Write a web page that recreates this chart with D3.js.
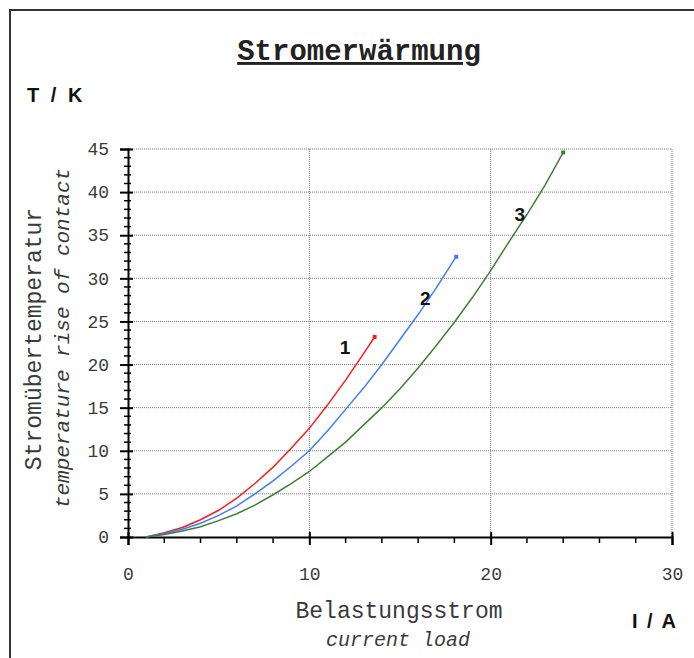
<!DOCTYPE html>
<html>
<head>
<meta charset="utf-8">
<script src="https://cdn.jsdelivr.net/npm/d3@7"></script>
<style>
  body { margin: 0; background: #fff; }
  .mono { font-family: 'Liberation Mono', 'Courier New', monospace; }
  .sans { font-family: 'Liberation Sans', Arial, sans-serif; font-weight: bold; }
</style>
</head>
<body>
<div id="chart"></div>
<script>
// current I / A for each curve
const current1 = [1, 2, 3, 4, 5, 6, 7, 8, 9, 10, 11, 12, 13, 13.6]
const temp1 = [0, 0.5, 1.1, 2.0, 3.1, 4.5, 6.2, 8.1, 10.3, 12.6, 15.3, 18.2, 21.3, 23.2]

const current2 = [1, 2, 3, 4, 5, 6, 7, 8, 9, 10, 11, 12, 13, 14, 15, 16, 17, 18, 18.1]
const temp2 = [0, 0.4, 0.9, 1.6, 2.5, 3.6, 5.0, 6.5, 8.2, 10.0, 12.3, 14.8, 17.3, 20.0, 22.9, 25.8, 28.9, 32.2, 32.5]

const current3 = [1, 2, 3, 4, 5, 6, 7, 8, 9, 10, 11, 12, 13, 14, 15, 16, 17, 18, 19, 20, 21, 22, 23, 24]
const temp3 = [0, 0.3, 0.7, 1.2, 1.9, 2.7, 3.7, 4.9, 6.2, 7.6, 9.3, 11.0, 13.0, 15.0, 17.2, 19.6, 22.2, 24.9, 27.8, 30.9, 34.2, 37.4, 40.8, 44.6]

const seriesNames = ['1', '2', '3']
const seriesColors = ['#ff1a1a', '#3d7eff', '#3f7f35']
const labelPos = [[11.97, 22.0], [16.4, 27.7], [21.6, 37.4]]

const xTicks = [0, 10, 20, 30]
const yTicks = [0, 5, 10, 15, 20, 25, 30, 35, 40, 45]

const width = 694
const height = 658
const plot = { left: 128, right: 672, top: 149, bottom: 537 }
const textColor = '#3a3a3a'

const svg = d3.select('#chart').append('svg')
  .attr('width', width)
  .attr('height', height)

// outer frame
svg.append('rect')
  .attr('x', 10).attr('y', 10)
  .attr('width', 720).attr('height', 700)
  .attr('fill', 'none')
  .attr('stroke', '#333')
  .attr('stroke-width', 2)

const x = d3.scaleLinear().domain([0, 30]).range([plot.left, plot.right])
const y = d3.scaleLinear().domain([0, 45]).range([plot.bottom, plot.top])

// grid
svg.append('g')
  .selectAll('line')
  .data(yTicks.slice(1))
  .join('line')
  .attr('x1', plot.left).attr('x2', plot.right)
  .attr('y1', d => y(d)).attr('y2', d => y(d))
  .attr('stroke', '#777')
  .attr('stroke-dasharray', '1,1')

svg.append('g')
  .selectAll('line')
  .data(xTicks.slice(1))
  .join('line')
  .attr('x1', d => x(d)).attr('x2', d => x(d))
  .attr('y1', plot.top).attr('y2', plot.bottom)
  .attr('stroke', '#777')
  .attr('stroke-dasharray', '1,1')

// minor ticks
svg.append('g')
  .selectAll('line')
  .data(d3.range(0, 46, 1).filter(d => d % 5 !== 0))
  .join('line')
  .attr('x1', plot.left - 4).attr('x2', plot.left + 3)
  .attr('y1', d => y(d)).attr('y2', d => y(d))
  .attr('stroke', '#000')
  .attr('stroke-width', 1.5)

svg.append('g')
  .selectAll('line')
  .data(d3.range(0, 31, 2).filter(d => d % 10 !== 0))
  .join('line')
  .attr('x1', d => x(d)).attr('x2', d => x(d))
  .attr('y1', plot.bottom).attr('y2', plot.bottom + 6)
  .attr('stroke', '#000')
  .attr('stroke-width', 1.5)

// axes
const yAxis = svg.append('g')
  .attr('transform', `translate(${plot.left},0)`)
  .call(d3.axisLeft(y).tickValues(yTicks).tickSize(8).tickPadding(11))
yAxis.selectAll('.tick line').attr('x2', -8).attr('x1', 5).attr('stroke-width', 2)

const xAxis = svg.append('g')
  .attr('transform', `translate(0,${plot.bottom})`)
  .call(d3.axisBottom(x).tickValues(xTicks).tickSize(8).tickPadding(28))
xAxis.selectAll('.tick line').attr('y1', -5).attr('stroke-width', 2)

svg.selectAll('.domain').attr('stroke-width', 2)
svg.selectAll('.tick text')
  .attr('class', 'mono')
  .style('font-size', '18px')
  .attr('fill', textColor)
xAxis.selectAll('.tick text').attr('dy', '0.4em')

// curves
const series = [
  current1.map((c, i) => [c, temp1[i]]),
  current2.map((c, i) => [c, temp2[i]]),
  current3.map((c, i) => [c, temp3[i]])
]

const line = d3.line()
  .x(d => x(d[0]))
  .y(d => y(d[1]))

series.forEach((pts, i) => {
  svg.append('path')
    .datum(pts)
    .attr('d', line)
    .attr('fill', 'none')
    .attr('stroke', seriesColors[i])
    .attr('stroke-width', 1.5)
  const last = pts[pts.length - 1]
  svg.append('rect')
    .attr('x', x(last[0]) - 2).attr('y', y(last[1]) - 2)
    .attr('width', 4).attr('height', 4)
    .attr('fill', seriesColors[i])
  svg.append('text')
    .attr('class', 'sans')
    .attr('x', x(labelPos[i][0]))
    .attr('y', y(labelPos[i][1]))
    .attr('text-anchor', 'middle')
    .attr('dy', '0.35em')
    .style('font-size', '19px')
    .attr('fill', '#111')
    .text(seriesNames[i])
})

// titles
svg.append('text')
  .attr('class', 'mono')
  .attr('x', 359).attr('y', 60)
  .attr('text-anchor', 'middle')
  .style('font-size', '29px')
  .style('font-weight', 'bold')
  .style('text-decoration', 'underline')
  .attr('fill', '#222')
  .text('Stromerwärmung')

svg.append('text')
  .attr('class', 'sans')
  .attr('x', 27).attr('y', 102)
  .style('font-size', '20px')
  .style('letter-spacing', '3px')
  .attr('fill', '#111')
  .text('T / K')

svg.append('text')
  .attr('class', 'sans')
  .attr('x', 632).attr('y', 628)
  .style('font-size', '20px')
  .style('letter-spacing', '2px')
  .attr('fill', '#111')
  .text('I / A')

svg.append('text')
  .attr('class', 'mono')
  .attr('transform', 'translate(41,339) rotate(-90)')
  .attr('text-anchor', 'middle')
  .style('font-size', '23px')
  .attr('fill', textColor)
  .text('Stromübertemperatur')

svg.append('text')
  .attr('class', 'mono')
  .attr('transform', 'translate(69,338) rotate(-90)')
  .attr('text-anchor', 'middle')
  .style('font-size', '21px')
  .style('font-style', 'italic')
  .attr('fill', textColor)
  .text('temperature rise of contact')

svg.append('text')
  .attr('class', 'mono')
  .attr('x', 399).attr('y', 618)
  .attr('text-anchor', 'middle')
  .style('font-size', '23px')
  .attr('fill', textColor)
  .text('Belastungsstrom')

svg.append('text')
  .attr('class', 'mono')
  .attr('x', 398).attr('y', 646)
  .attr('text-anchor', 'middle')
  .style('font-size', '20px')
  .style('font-style', 'italic')
  .attr('fill', textColor)
  .text('current load')
</script>
</body>
</html>
